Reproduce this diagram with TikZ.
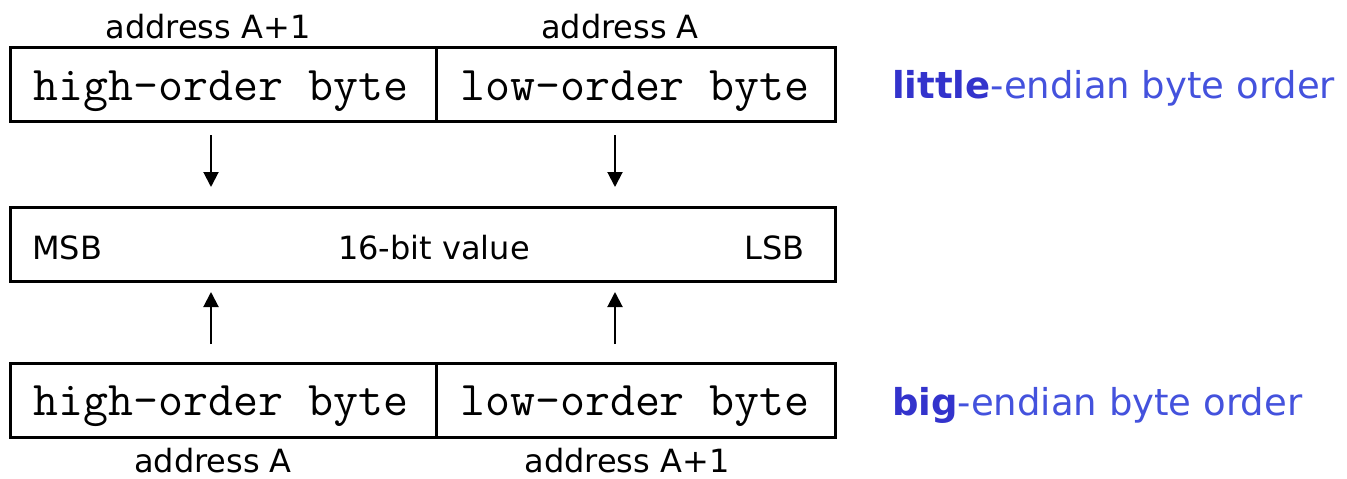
\documentclass[tikz,border=0pt]{standalone}
\usepackage{fontspec}
\setmainfont{DejaVu Sans}
\usetikzlibrary{arrows.meta}
\definecolor{bluebold}{RGB}{51,51,204}
\definecolor{bluereg}{RGB}{68,82,221}
\tikzset{
  cell/.style={draw=black, line width=3pt, rectangle, inner sep=0pt, minimum height=74pt},
  mono/.style={inner sep=0pt, anchor=base, font=\ttfamily\fontsize{48.5}{54}\selectfont},
  lbl/.style={inner sep=0pt, anchor=base, font=\fontsize{32}{38}\selectfont},
  side/.style={inner sep=0pt, anchor=base west, font=\fontsize{37}{44}\selectfont, text=bluereg},
  arr/.style={line width=2pt, -{Triangle[width=15pt,length=15pt]}}
}
\begin{document}
\begin{tikzpicture}[x=1pt,y=-1pt]
\useasboundingbox (0,0) rectangle (1347,479);
% top (little-endian)
\node[cell, minimum width=426pt] (thi) at (223,84) {};
\node[cell, minimum width=399pt] (tlo) at (635.5,84) {};
\node[mono] (thit) at (221,100) {high-order byte};
\node[mono] (tlot) at (635,100) {low-order byte};
\node[lbl] (ta1) at (208,38) {address A+1};
\node[lbl] (ta0) at (620,38) {address A};
\node[side] (little) at (892,98) {\textcolor{bluebold}{\bfseries little}-endian byte order};
% middle value
\node[cell, minimum width=825pt] (val) at (422.5,244) {};
\node[lbl, anchor=base west] (msb) at (32,259) {MSB};
\node[lbl] (valt) at (434,259) {16-bit value};
\node[lbl, anchor=base east] (lsb) at (805,259) {LSB};
% bottom (big-endian)
\node[cell, minimum width=426pt] (bhi) at (223,400.5) {};
\node[cell, minimum width=399pt] (blo) at (635.5,400.5) {};
\node[mono] (bhit) at (221,415) {high-order byte};
\node[mono] (blot) at (635,415) {low-order byte};
\node[lbl] (ba0) at (213,472) {address A};
\node[lbl] (ba1) at (627,472) {address A+1};
\node[side] (big) at (892,415) {\textcolor{bluebold}{\bfseries big}-endian byte order};
% arrows
\coordinate (a1s) at (211,135);
\coordinate (a1e) at (211,187);
\coordinate (a2s) at (615,135);
\coordinate (a2e) at (615,187);
\coordinate (a3s) at (211,344);
\coordinate (a3e) at (211,292);
\coordinate (a4s) at (615,344);
\coordinate (a4e) at (615,292);
\draw[arr] (a1s) -- (a1e);
\draw[arr] (a2s) -- (a2e);
\draw[arr] (a3s) -- (a3e);
\draw[arr] (a4s) -- (a4e);
\end{tikzpicture}
\end{document}
